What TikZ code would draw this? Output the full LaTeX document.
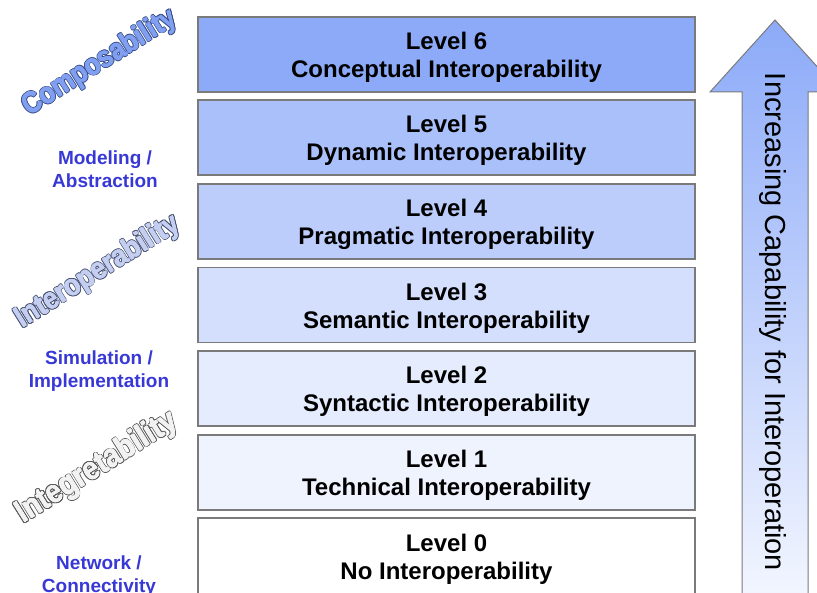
\documentclass[tikz,border=0pt]{standalone}
\usepackage{fontspec}
\setmainfont{Liberation Sans}
\usetikzlibrary{calc}
\definecolor{Lsix}{HTML}{8CAAF8}
\definecolor{Lfive}{HTML}{A9C0FA}
\definecolor{Lfour}{HTML}{BCCDFB}
\definecolor{Lthree}{HTML}{D3DFFC}
\definecolor{Ltwo}{HTML}{E5ECFD}
\definecolor{Lone}{HTML}{EFF3FE}
\definecolor{Lzero}{HTML}{FFFFFF}
\definecolor{boxline}{HTML}{7A7A7A}
\definecolor{sideblue}{HTML}{3838D6}
\definecolor{compfill}{HTML}{809FF0}
\definecolor{compline}{HTML}{3A4F8C}
\definecolor{intfill}{HTML}{C3CEF0}
\definecolor{intline}{HTML}{4C5575}
\definecolor{itgfill}{HTML}{F2F2F2}
\definecolor{itgline}{HTML}{5A5A5A}
\definecolor{arrtop}{HTML}{8CAAF8}
\definecolor{arrbot}{HTML}{F4F7FF}
\tikzset{
  levelbox/.style={draw=boxline, line width=1.2pt, minimum width=497pt, minimum height=75pt, inner sep=0pt},
  lvltext/.style={align=center, font=\bfseries\fontsize{24}{28}\selectfont, text=black, inner sep=0pt},
  sidelabel/.style={align=center, font=\bfseries\fontsize{19}{23}\selectfont, text=sideblue, inner sep=0pt},
  wordart/.style={font=\bfseries\fontsize{#1}{#1}\selectfont, inner sep=0pt, rotate=32, yscale=1.15}
}
\begin{document}
\begin{tikzpicture}[x=1pt,y=-1pt]
\useasboundingbox (0,0) rectangle (817,593);
\begin{scope}
\clip (0,0) rectangle (817,593);
% arrow
\path[draw=boxline, line width=1pt, top color=arrtop, bottom color=arrbot]
  (775,20) -- (840,92) -- (808,92) -- (808,605) -- (742,605) -- (742,92) -- (710,92) -- cycle;
\node[rotate=-90, font=\fontsize{29}{29}\selectfont, inner sep=0pt] (arrtxt) at (773,322) {Increasing Capability for Interoperation};
% levels
\node[levelbox, fill=Lsix] (L6) at (446.5,54.5) {};
\node[levelbox, fill=Lfive] (L5) at (446.5,137.5) {};
\node[levelbox, fill=Lfour] (L4) at (446.5,221.5) {};
\node[levelbox, fill=Lthree] (L3) at (446.5,305) {};
\node[levelbox, fill=Ltwo] (L2) at (446.5,388.5) {};
\node[levelbox, fill=Lone] (L1) at (446.5,472.5) {};
\node[levelbox, fill=Lzero, minimum height=90pt] (L0) at (446.5,563) {};
\node[lvltext] (L6t) at ($(L6.center)+(0,3)$) {Level 6\\Conceptual Interoperability};
\node[lvltext] (L5t) at ($(L5.center)+(0,3)$) {Level 5\\Dynamic Interoperability};
\node[lvltext] (L4t) at ($(L4.center)+(0,3)$) {Level 4\\Pragmatic Interoperability};
\node[lvltext] (L3t) at ($(L3.center)+(0,3)$) {Level 3\\Semantic Interoperability};
\node[lvltext] (L2t) at ($(L2.center)+(0,3)$) {Level 2\\Syntactic Interoperability};
\node[lvltext] (L1t) at ($(L1.center)+(0,3)$) {Level 1\\Technical Interoperability};
\node[lvltext] (L0t) at (446.5,559) {Level 0\\No Interoperability};
% side labels
\node[sidelabel] (model) at (105,169) {Modeling /\\Abstraction};
\node[sidelabel] (simul) at (99,371) {Simulation /\\Implementation};
\node[sidelabel] (netw) at (99,576) {Network /\\Connectivity};
% word art
\foreach \a in {0,30,...,330}{
  \node[wordart=25.5, text=compline] at ($(100,63)+(\a:1.1)$) {Composability};
  \node[wordart=26, text=intline] at ($(98,272)+(\a:1.1)$) {Interoperability};
  \node[wordart=28, text=itgline] at ($(97,468)+(\a:1.1)$) {Integretability};
}
\foreach \a in {0,90,180,270}{
  \node[wordart=25.5, text=compfill] at ($(100,63)+(\a:0.35)$) {Composability};
  \node[wordart=26, text=intfill] at ($(98,272)+(\a:0.35)$) {Interoperability};
  \node[wordart=28, text=itgfill] at ($(97,468)+(\a:0.35)$) {Integretability};
}
\node[wordart=25.5, text=compfill] (comp) at (100,63) {Composability};
\node[wordart=26, text=intfill] (inter) at (98,272) {Interoperability};
\node[wordart=28, text=itgfill] (integ) at (97,468) {Integretability};
\end{scope}
\end{tikzpicture}
\end{document}
